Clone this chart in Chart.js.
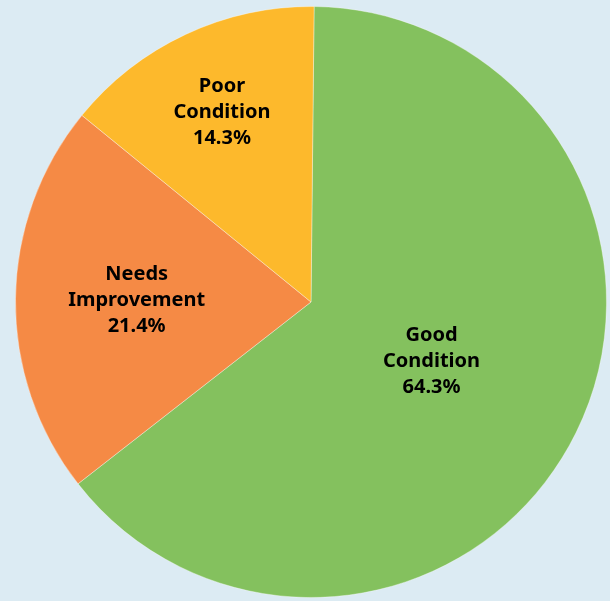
<!DOCTYPE html>
<html>
<head>
<meta charset="utf-8">
<script src="https://cdn.jsdelivr.net/npm/chart.js@4/dist/chart.umd.min.js"></script>
<style>
  html, body { margin: 0; padding: 0; background: #dcebf3; }
  #wrap { width: 610px; height: 601px; }
</style>
</head>
<body>
<div id="wrap"><canvas id="pie"></canvas></div>
<script>
// Data
const categories = ['Good Condition', 'Needs Improvement', 'Poor Condition'];
const labelLines = [['Good', 'Condition'], ['Needs', 'Improvement'], ['Poor', 'Condition']];
const counts = [9, 3, 2];
const sliceColors = ['#84c15e', '#f58a45', '#fdb92c'];

// label distance from centre, as a fraction of the radius (per slice)
const labelRadius = [0.455, 0.59, 0.71];

const sliceLabels = {
    id: 'sliceLabels',
    afterDatasetsDraw(chart) {
        const ctx = chart.ctx;
        const meta = chart.getDatasetMeta(0);
        const total = counts.reduce((a, b) => a + b, 0);
        ctx.save();
        ctx.font = 'bold 20px "Noto Sans", sans-serif';
        ctx.fillStyle = '#000';
        ctx.textAlign = 'center';
        ctx.textBaseline = 'middle';
        meta.data.forEach((arc, i) => {
            const p = arc.getProps(['x', 'y', 'startAngle', 'endAngle', 'outerRadius'], true);
            const mid = (p.startAngle + p.endAngle) / 2;
            const r = p.outerRadius * labelRadius[i];
            const cx = p.x + Math.cos(mid) * r;
            const cy = p.y + Math.sin(mid) * r;
            const lines = [...labelLines[i], (counts[i] / total * 100).toFixed(1) + '%'];
            const lh = 26;
            lines.forEach((t, k) => {
                ctx.fillText(t, cx, cy + (k - (lines.length - 1) / 2) * lh);
            });
        });
        ctx.restore();
    }
};

new Chart(document.getElementById('pie'), {
    type: 'pie',
    data: {
        labels: categories,
        datasets: [{
            data: counts,
            backgroundColor: sliceColors,
            borderColor: 'rgba(255,255,255,0.35)',
            borderWidth: 1
        }]
    },
    options: {
        responsive: true, maintainAspectRatio: false,
        animation: false,
        rotation: 0.6,
        layout: { padding: { left: 15, right: 3, top: 6, bottom: 3 } },
        plugins: { legend: { display: false }, tooltip: { enabled: false } }
    },
    plugins: [sliceLabels]
});
</script>
</body>
</html>
